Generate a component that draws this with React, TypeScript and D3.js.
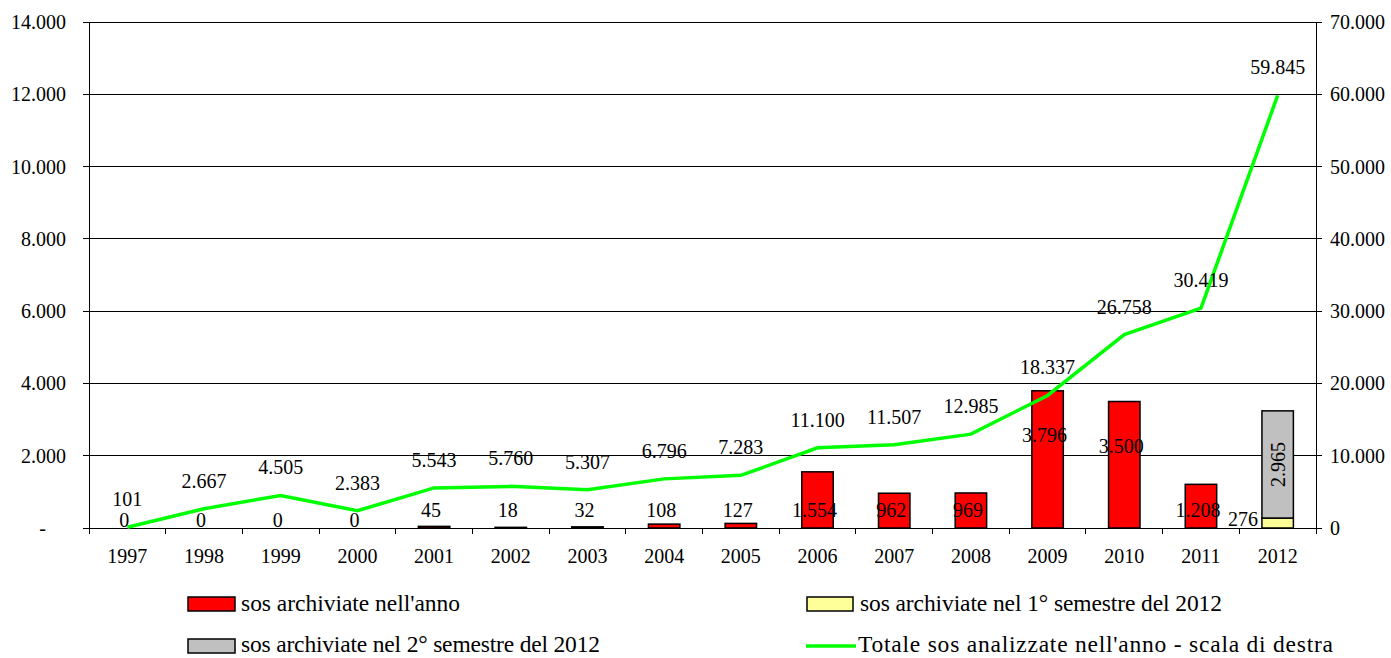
import React from 'react';
import * as d3 from 'd3';

const years = ['1997','1998','1999','2000','2001','2002','2003','2004','2005','2006','2007','2008','2009','2010','2011','2012'];
const archivedInYear: (number | null)[] = [0, 0, 0, 0, 45, 18, 32, 108, 127, 1554, 962, 969, 3796, 3500, 1208, null];
const archivedFirstSem2012: (number | null)[] = [null, null, null, null, null, null, null, null, null, null, null, null, null, null, null, 276];
const archivedSecondSem2012: (number | null)[] = [null, null, null, null, null, null, null, null, null, null, null, null, null, null, null, 2965];
const totalAnalyzed = [101, 2667, 4505, 2383, 5543, 5760, 5307, 6796, 7283, 11100, 11507, 12985, 18337, 26758, 30419, 59845];
const leftTicks = [0, 2000, 4000, 6000, 8000, 10000, 12000, 14000];
const rightTicks = [0, 10000, 20000, 30000, 40000, 50000, 60000, 70000];
const legendLabels = [
  "sos archiviate nell'anno",
  'sos archiviate nel 1° semestre del 2012',
  'sos archiviate nel 2° semestre del 2012',
  "Totale sos analizzate nell'anno - scala di destra",
];

const W = 1391;
const H = 658;
const L = 89, R = 1316, T = 22, B = 528;
const FONT = 'Liberation Serif, Times New Roman, DejaVu Serif, serif';
const FS = 20;
const LFS = 23.5;
const RED = '#FF0000';
const YELLOW = '#FFFF99';
const GREY = '#C0C0C0';
const GREEN = '#00FF00';

const it = d3.formatLocale({ decimal: ',', thousands: '.', grouping: [3], currency: ['€', ''] });
const fmt = it.format(',d');

export default function App() {
  const x = d3.scaleBand<string>().domain(years).range([L, R]).paddingInner(0).paddingOuter(0);
  const yL = d3.scaleLinear().domain([0, 14000]).range([B, T]);
  const yR = d3.scaleLinear().domain([0, 70000]).range([B, T]);
  const bw = x.bandwidth() * 0.41;
  const cx = (y: string) => (x(y) as number) + x.bandwidth() / 2;

  const line = d3.line<number>()
    .x((_, i) => cx(years[i]))
    .y((d) => yR(d));

  const boundaries = years.map((y) => x(y) as number).concat([R]);

  return (
    <svg width={W} height={H} style={{ position: 'absolute', left: 0, top: 0, background: '#fff', fontFamily: FONT, fontSize: FS }}>
      <rect x={0} y={0} width={W} height={H} fill="#fff" />
      {/* gridlines */}
      {leftTicks.map((t) => (
        <line key={'g' + t} x1={L} x2={R} y1={yL(t)} y2={yL(t)} stroke="#000" strokeWidth={1} shapeRendering="crispEdges" />
      ))}
      {/* axes */}
      <line x1={L} x2={L} y1={T} y2={B + 6} stroke="#000" strokeWidth={1} shapeRendering="crispEdges" />
      <line x1={R} x2={R} y1={T} y2={B + 6} stroke="#000" strokeWidth={1} shapeRendering="crispEdges" />
      {leftTicks.map((t) => (
        <g key={'lt' + t}>
          <line x1={L - 6} x2={L} y1={yL(t)} y2={yL(t)} stroke="#000" shapeRendering="crispEdges" />
          <text x={t === 0 ? 46 : 66} y={yL(t) + 7} textAnchor="end">{t === 0 ? '-' : fmt(t)}</text>
        </g>
      ))}
      {rightTicks.map((t) => (
        <g key={'rt' + t}>
          <line x1={R} x2={R + 6} y1={yR(t)} y2={yR(t)} stroke="#000" shapeRendering="crispEdges" />
          <text x={1330} y={yR(t) + 7} textAnchor="start">{fmt(t)}</text>
        </g>
      ))}
      {boundaries.map((bx, i) => (
        <line key={'xt' + i} x1={bx} x2={bx} y1={B} y2={B + 6} stroke="#000" shapeRendering="crispEdges" />
      ))}
      {years.map((y) => (
        <text key={'xl' + y} x={cx(y)} y={563} textAnchor="middle">{y}</text>
      ))}

      {/* bars */}
      {years.map((y, i) => {
        const v = archivedInYear[i];
        if (v == null || v === 0) return null;
        return (
          <rect key={'b' + y} x={cx(y) - bw / 2} y={yL(v)} width={bw} height={B - yL(v)} fill={RED} stroke="#000" strokeWidth={1.5} />
        );
      })}
      {years.map((y, i) => {
        const a = archivedFirstSem2012[i];
        const b = archivedSecondSem2012[i];
        if (a == null || b == null) return null;
        return (
          <g key={'s' + y}>
            <rect x={cx(y) - bw / 2} y={yL(a)} width={bw} height={B - yL(a)} fill={YELLOW} stroke="#000" strokeWidth={1.5} />
            <rect x={cx(y) - bw / 2} y={yL(a + b)} width={bw} height={yL(a) - yL(a + b)} fill={GREY} stroke="#000" strokeWidth={1.5} />
          </g>
        );
      })}

      {/* line */}
      <path d={line(totalAnalyzed) || ''} fill="none" stroke={GREEN} strokeWidth={3.5} strokeLinejoin="miter" />

      {/* line labels */}
      {years.map((y, i) => (
        <text key={'ll' + y} x={cx(y)} y={yR(totalAnalyzed[i]) - 21} textAnchor="middle">{fmt(totalAnalyzed[i])}</text>
      ))}

      {/* bar labels */}
      {years.map((y, i) => {
        const v = archivedInYear[i];
        if (v == null) return null;
        let ty: number;
        if (v === 0) ty = B - 1;
        else ty = Math.min(yL(v) + 51, B - 11);
        return (
          <text key={'bl' + y} x={cx(y) - 3} y={ty} textAnchor="middle">{fmt(v)}</text>
        );
      })}
      {years.map((y, i) => {
        const a = archivedFirstSem2012[i];
        const b = archivedSecondSem2012[i];
        if (a == null || b == null) return null;
        const my = (yL(a) + yL(a + b)) / 2;
        return (
          <g key={'sl' + y}>
            <text x={cx(y) - bw / 2 - 4} y={B - 2} textAnchor="end">{fmt(a)}</text>
            <text transform={`translate(${cx(y) + 7},${my}) rotate(-90)`} textAnchor="middle">{fmt(b)}</text>
          </g>
        );
      })}

      {/* legend */}
      <g fontSize={LFS}>
        <rect x={188} y={597} width={47} height={14} fill={RED} stroke="#000" strokeWidth={1.5} />
        <text x={241} y={611} textLength={219} lengthAdjust="spacing">{legendLabels[0]}</text>
        <rect x={807} y={597} width={46} height={14} fill={YELLOW} stroke="#000" strokeWidth={1.5} />
        <text x={860} y={611} textLength={362} lengthAdjust="spacing">{legendLabels[1]}</text>
        <rect x={188} y={639} width={47} height={14} fill={GREY} stroke="#000" strokeWidth={1.5} />
        <text x={241} y={652} textLength={359} lengthAdjust="spacing">{legendLabels[2]}</text>
        <line x1={806} x2={856} y1={646} y2={646} stroke={GREEN} strokeWidth={3.5} />
        <text x={858} y={652} textLength={475} lengthAdjust="spacing">{legendLabels[3]}</text>
      </g>
    </svg>
  );
}
